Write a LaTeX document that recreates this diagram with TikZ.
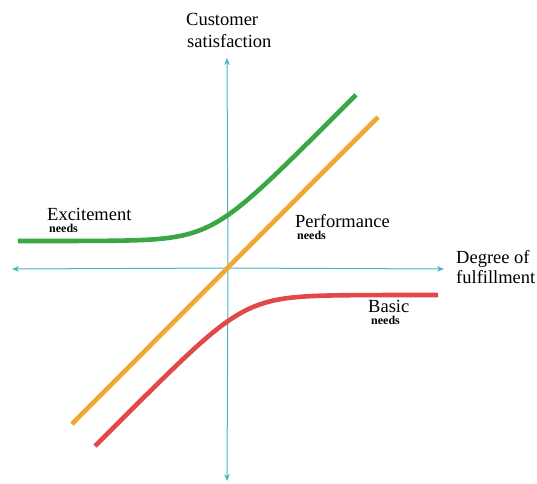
\documentclass[tikz,border=0pt]{standalone}
\usepackage{fontspec}
\setmainfont{Liberation Serif}
\usetikzlibrary{arrows.meta}
\definecolor{kgreen}{RGB}{58,166,68}
\definecolor{korange}{RGB}{240,168,52}
\definecolor{kred}{RGB}{226,72,72}
\definecolor{kaxis}{RGB}{70,178,196}
\begin{document}
\begin{tikzpicture}[x=1pt,y=1pt,
  axisline/.style={draw=kaxis,line width=1pt,-{Stealth[length=7pt,width=5.5pt]}},
  curve/.style={line width=4.6pt},
  lab/.style={inner sep=0pt,anchor=base west,font=\fontsize{18.5}{20}\selectfont},
  sublab/.style={inner sep=0pt,anchor=base west,font=\fontsize{12}{12}\selectfont\bfseries}]
\useasboundingbox (-228,-215) rectangle (309,268);
\coordinate (o) at (0,0);
\coordinate (xl) at (-216,-1);
\coordinate (xr) at (216,-1);
\coordinate (yt) at (-1,210);
\coordinate (yb) at (-1,-213);
\draw[axisline] (o) -- (xl);
\draw[axisline] (o) -- (xr);
\draw[axisline] (o) -- (yt);
\draw[axisline] (o) -- (yb);
% curves
\coordinate (os) at (-156,-156);
\coordinate (oe) at (150,151);
\draw[curve,korange] (os) -- (oe);
\draw[curve,kgreen] plot[domain=-210:128,samples=120,smooth] (\x,{27+22*ln(1+exp((\x+18)/22))});
\draw[curve,kred] plot[domain=-133:210,samples=120,smooth] (\x,{-27-22*ln(1+exp((-\x+18)/22))});
% labels
\node[lab] (cs1) at (-42,243) {Customer};
\node[lab] (cs2) at (-41,221) {satisfaction};
\node[lab] (ex) at (-181,48) {Excitement};
\node[sublab] (exn) at (-179,35.5) {needs};
\node[lab] (pf) at (67,41) {Performance};
\node[sublab] (pfn) at (69,29) {needs};
\node[lab] (dg1) at (228,5) {Degree of};
\node[lab] (dg2) at (228,-15) {fulfillment};
\node[lab] (bs) at (140,-44) {Basic};
\node[sublab] (bsn) at (143,-56) {needs};
\end{tikzpicture}
\end{document}
